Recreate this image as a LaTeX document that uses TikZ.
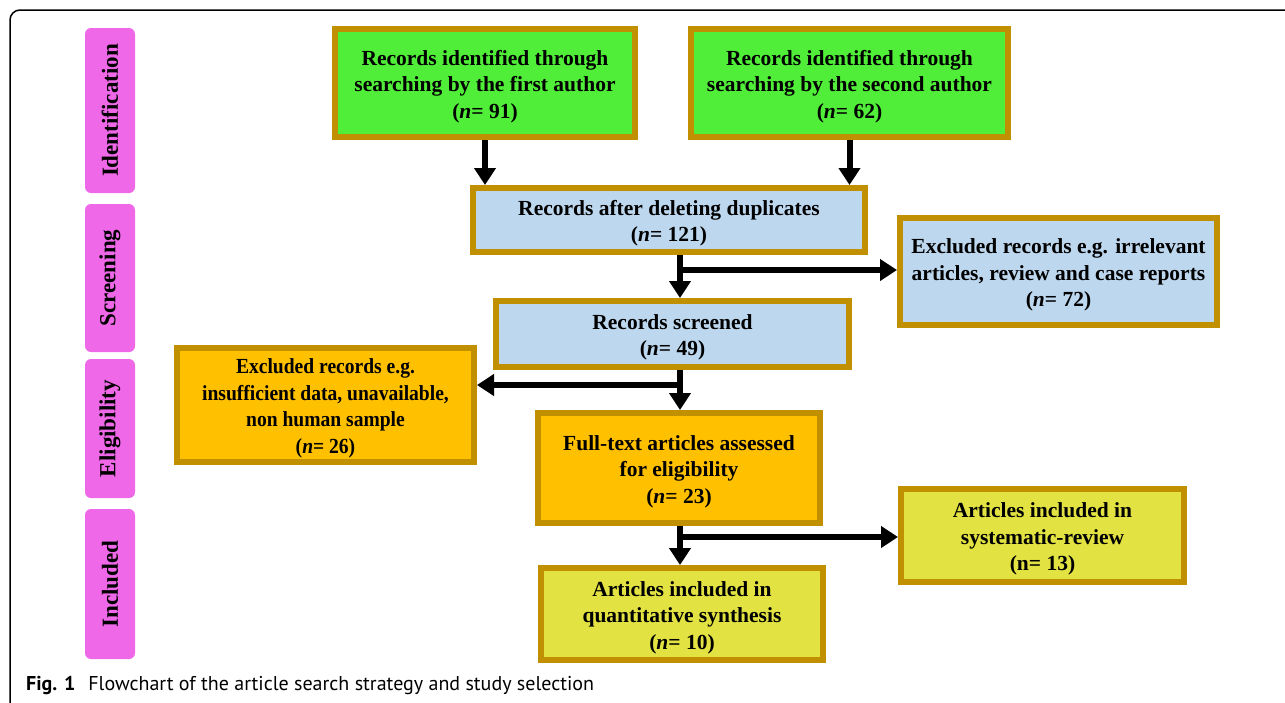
\documentclass[tikz,border=0pt]{standalone}
\usepackage{fontspec}
\setmainfont{Liberation Serif}
\newfontfamily\condserif{Liberation Serif}[FakeStretch=0.91]
\newfontfamily\capfont{PT Sans}
\usetikzlibrary{arrows.meta}
\definecolor{gold}{RGB}{192,144,0}
\definecolor{boxgreen}{RGB}{80,238,56}
\definecolor{boxblue}{RGB}{189,215,238}
\definecolor{boxorange}{RGB}{255,192,0}
\definecolor{boxyellow}{RGB}{226,226,66}
\definecolor{tabpink}{RGB}{238,104,232}
\newcommand{\tstrut}{\rule{0pt}{22pt}}
\begin{document}
\begin{tikzpicture}[x=1pt,y=-1pt,
  box/.style={draw=gold, line width=6pt, align=center, inner sep=0pt,
    font=\fontsize{21.5}{26.5}\selectfont\bfseries},
  tab/.style={fill=tabpink, rounded corners=6pt, rotate=90, inner sep=0pt,
    minimum height=50pt, font=\fontsize{23}{26}\selectfont\bfseries},
  arr/.style={line width=6pt, -{Triangle[width=21pt,length=17pt]}}]
\useasboundingbox (0,0) rectangle (1285,702);
\clip (0,0) rectangle (1285,702);
\draw[line width=1.5pt, rounded corners=10pt] (1300,10) -- (10,10) -- (10,720);

% phase tabs
\node[tab, minimum width=165pt] (tI) at (110,110.5) {Identification};
\node[tab, minimum width=148pt] (tS) at (110,278) {Screening};
\node[tab, minimum width=139pt] (tE) at (110,428.5) {Eligibility};
\node[tab, minimum width=150pt] (tN) at (110,584) {Included};

% boxes
\node[box, fill=boxgreen, minimum width=300pt, minimum height=108pt] (g1) at (485,83)
  {\tstrut Records identified through\\searching by the first author\\(\textit{n}= 91)};
\node[box, fill=boxgreen, minimum width=317pt, minimum height=108pt] (g2) at (849.5,83)
  {\tstrut Records identified through\\searching by the second author\\(\textit{n}= 62)};
\node[box, fill=boxblue, minimum width=392pt, minimum height=64pt] (dup) at (669,220)
  {\tstrut Records after deleting duplicates\\(\textit{n}= 121)};
\node[box, fill=boxblue, minimum width=317pt, minimum height=107pt] (ex1) at (1058.5,271.5)
  {\tstrut Excluded records e.g. irrelevant\\articles, review and case reports\\(\textit{n}= 72)};
\node[box, fill=boxblue, minimum width=353pt, minimum height=66pt] (scr) at (672.5,334)
  {\tstrut Records screened\\(\textit{n}= 49)};
\node[box, fill=boxorange, minimum width=297pt, minimum height=114pt,
  font=\condserif\fontsize{21.5}{26.5}\selectfont\bfseries] (ex2) at (325.5,405)
  {\tstrut Excluded records e.g.\\insufficient data, unavailable,\\non human sample\\(\textit{n}= 26)};
\node[box, fill=boxorange, minimum width=282pt, minimum height=110pt] (ft) at (679,468)
  {\tstrut Full-text articles assessed\\for eligibility\\(\textit{n}= 23)};
\node[box, fill=boxyellow, minimum width=283pt, minimum height=93pt] (sys) at (1042.5,535.5)
  {\tstrut Articles included in\\systematic-review\\(n= 13)};
\node[box, fill=boxyellow, minimum width=282pt, minimum height=92pt] (qt) at (682,614)
  {\tstrut Articles included in\\quantitative synthesis\\(\textit{n}= 10)};

% connectors
\draw[arr] (g1.south) -- (g1.south |- dup.north);
\draw[arr] (g2.south) -- (g2.south |- dup.north);

\coordinate (b1) at (680,270);
\coordinate (b2) at (680,385);
\coordinate (b3) at (680,537);
\draw[arr] (dup.south -| b1) -- (scr.north -| b1);
\draw[arr] (b1) -- (b1 -| ex1.west);
\draw[arr] (scr.south -| b2) -- (ft.north -| b2);
\draw[arr] (b2) -- (b2 -| ex2.east);
\draw[arr] (ft.south -| b3) -- (qt.north -| b3);
\draw[arr] (b3) -- (b3 -| sys.west);

% caption
\node[anchor=base west, inner sep=0pt, font=\capfont\fontsize{20}{22}\selectfont] (cap) at (26,690)
  {\textbf{Fig.\,\,1}\hspace{13pt}Flowchart of the article search strategy and study selection};
\end{tikzpicture}
\end{document}
